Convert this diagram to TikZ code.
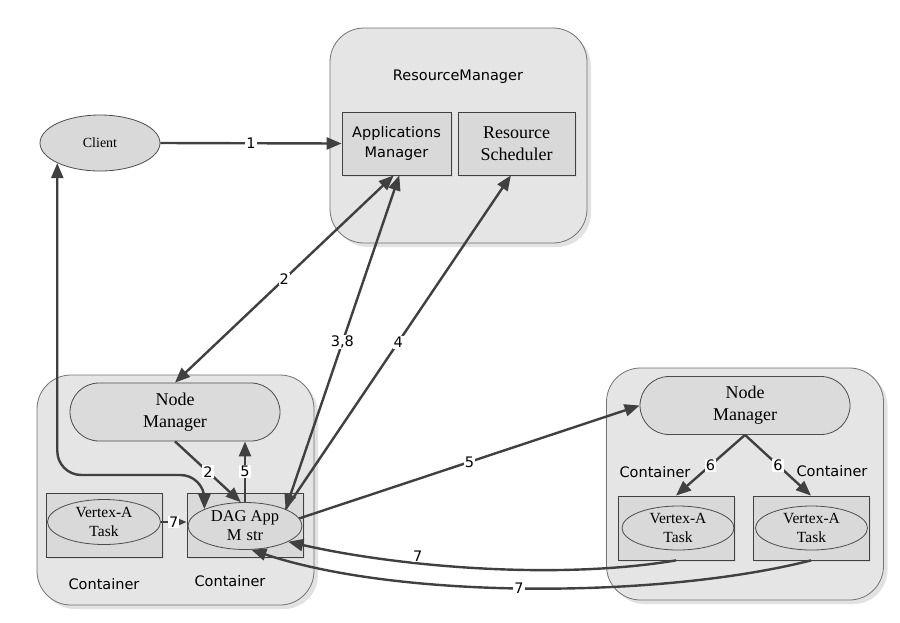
\documentclass[tikz,border=0pt]{standalone}
\usepackage{fontspec}
\setmainfont{Liberation Serif}
\newfontfamily\lblfont{DejaVu Sans}
\usetikzlibrary{arrows.meta,shapes.geometric,shadows,calc}
\begin{document}
\begin{tikzpicture}[x=1pt,y=-1pt,
  bigbox/.style={draw=black!55, fill=black!10, rounded corners=34pt, line width=0.8pt,
    drop shadow={shadow xshift=4pt,shadow yshift=-4pt,fill=black!22}},
  inbox/.style={draw=black!75, fill=black!15, line width=0.8pt,
    drop shadow={shadow xshift=2pt,shadow yshift=-2pt,fill=black!20}},
  ell/.style={ellipse, draw=black!70, fill=black!15, line width=0.8pt, inner sep=0pt,
    font=\fontsize{15.5}{19}\selectfont, align=center},
  nmstyle/.style={draw=black!70, fill=black!14, rounded corners=29pt, minimum width=210pt,
    minimum height=58pt, align=center, font=\fontsize{18}{22}\selectfont, line width=0.8pt},
  sans/.style={font=\lblfont\fontsize{14.5}{20}\selectfont},
  num/.style={fill=white, inner sep=1pt, font=\lblfont\fontsize{14.5}{17}\selectfont},
  link/.style={draw=black!75, line width=2.4pt, -{Triangle[length=15pt,width=12pt]}},
  dlink/.style={draw=black!75, line width=2.4pt, {Triangle[length=15pt,width=12pt]}-{Triangle[length=15pt,width=12pt]}},
]
\useasboundingbox (0,0) rectangle (900,622);
\fill[white] (0,0) rectangle (900,622);

% ResourceManager
\node[bigbox, minimum width=257pt, minimum height=215pt] (rm) at (458.5,135.5) {};
\node[sans] (rmt) at (458,77) {ResourceManager};
\node[inbox, sans, align=center, minimum width=109pt, minimum height=63pt] (am) at (396.5,143.5) {Applications\\Manager};
\node[inbox, align=center, font=\fontsize{18}{22}\selectfont, minimum width=117pt, minimum height=63pt] (rs) at (516.5,143.5) {Resource\\Scheduler};

% Client
\node[ell, font=\fontsize{14}{16}\selectfont, minimum width=120pt, minimum height=56pt] (client) at (100,143) {Client};

% left NodeManager
\node[bigbox, minimum width=277pt, minimum height=230pt] (nmb1) at (175.5,490) {};
\node[nmstyle] (nm1) at (175,412) {Node\\Manager};
\node[inbox, minimum width=116pt, minimum height=64pt] (c1) at (104,525) {};
\node[ell, minimum width=113pt, minimum height=45pt] (vt1) at (104,522) {Vertex-A\\Task};
\node[inbox, minimum width=116pt, minimum height=64pt] (c2) at (245,525) {};
\node[ell, font=\fontsize{16.5}{19}\selectfont, minimum width=114pt, minimum height=47pt] (dag) at (245,526) {DAG App\\M\hspace{5pt}str};
\node[sans] (c1l) at (104,584) {Container};
\node[sans] (c2l) at (230,581) {Container};

% right NodeManager
\node[bigbox, minimum width=277pt, minimum height=232pt] (nmb2) at (745,484) {};
\node[nmstyle] (nm2) at (745,405.5) {Node\\Manager};
\node[inbox, minimum width=116pt, minimum height=64pt] (ca) at (676,528) {};
\node[ell, minimum width=112pt, minimum height=44pt] (va) at (678,528) {Vertex-A\\Task};
\node[inbox, minimum width=116pt, minimum height=64pt] (cb) at (811,528) {};
\node[ell, minimum width=112pt, minimum height=44pt] (vb) at (811.5,528) {Vertex-A\\Task};
\node[sans] (cal) at (655,472) {Container};
\node[sans] (cbl) at (832,471) {Container};

% connectors
\draw[link] (client.east) -- node[num]{1} (am.west);
\draw[dlink] (am.-95) -- node[num]{2} (nm1.north);
\draw[dlink] (dag.north east) -- node[num]{3,8} (am.-85);
\draw[link] (dag.north east) -- node[num]{4} (rs.-100);
\draw[dlink, rounded corners=24pt] (client.south west) |- (dag.north west |- 0,475) -- (dag.north west);
\draw[link] (nm1.south) -- node[num]{2} (dag.100);
\draw[link] (dag.north) -- node[num]{5} (dag.north |- nm1.south);
\draw[link] (vt1.east) -- node[num]{7} (vt1.east -| c2.west);
\draw[link] (dag.8) -- node[num]{5} (nm2.west);
\draw[link] (nm2.south) -- node[num]{6} (ca.north);
\draw[link] (nm2.south) -- node[num]{6} (cb.north);
\draw[link] (ca.south) .. controls +(-120,20) and +(110,25) .. node[num,pos=0.65,yshift=7pt]{7} (dag.-20);
\draw[link] (cb.south) .. controls +(-150,38) and +(150,50) .. node[num,pos=0.52]{7} (dag.-75);
\end{tikzpicture}
\end{document}
